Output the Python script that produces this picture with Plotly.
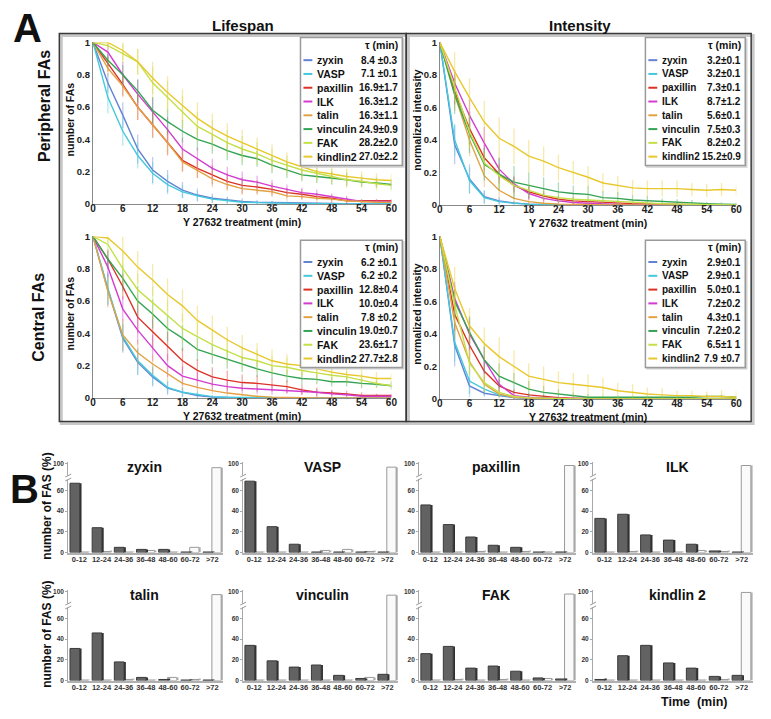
import plotly.graph_objects as go

W, H = 771, 719
FONT = "Arial, Liberation Sans, Helvetica, sans-serif"

# ---------------- data: time course (min) ----------------
time_min = [0, 3, 6, 9, 12, 15, 18, 21, 24, 27, 30, 33, 36, 39, 42, 45, 48, 51, 54, 57, 60]
x_ticks = [0, 6, 12, 18, 24, 30, 36, 42, 48, 54, 60]
y_ticks = [0, 0.2, 0.4, 0.6, 0.8, 1]
y_ticktext = ["0", "0.2", "0.4", "0.6", "0.8", "1"]

proteins = ["zyxin", "VASP", "paxillin", "ILK", "talin", "vinculin", "FAK", "kindlin2"]
colors = ["#6282d2", "#44c8dc", "#dc3226", "#d23cd0", "#e2a244", "#34a454", "#c4e048", "#e8c82c"]

# Peripheral FAs - lifespan
pl_zyxin = [1, .75, .55, .34, .21, .14, .085, .055, .035, .025, .015, .01, .008, .005, .003, .002, .002, .001, 0, 0, 0]
pl_vasp = [1, .66, .45, .30, .19, .12, .075, .05, .03, .02, .01, .008, .005, .003, .002, .001, 0, 0, 0, 0, 0]
pl_pax = [1, .87, .74, .60, .49, .38, .27, .22, .18, .14, .115, .105, .09, .07, .06, .045, .035, .02, .02, .02, .02]
pl_ilk = [1, .94, .80, .68, .57, .46, .34, .28, .22, .18, .15, .135, .11, .09, .07, .06, .045, .03, .015, .015, .015]
pl_talin = [1, .84, .73, .60, .49, .38, .26, .21, .155, .12, .095, .085, .075, .05, .045, .035, .03, .02, .015, .01, .01]
pl_vinc = [1, .89, .80, .70, .58, .51, .45, .40, .37, .33, .30, .28, .24, .21, .18, .17, .16, .15, .135, .13, .12]
pl_fak = [1, .98, .93, .88, .75, .66, .57, .48, .43, .38, .34, .31, .27, .24, .21, .19, .17, .15, .14, .125, .115]
pl_kind = [1, 1, .95, .88, .78, .69, .61, .53, .47, .42, .38, .34, .30, .26, .23, .20, .185, .17, .16, .15, .145]
e_pl_zyxin = [0, .06, .08, .09, .08, .07, .05, .04, .03, .02, .02, .015, .01, .01, .01, .01, .01, .005, .005, .005, .005]
e_pl_vasp = [0, .1, .09, .08, .07, .06, .04, .03, .02, .02, .01, .01, .01, .01, .005, .005, .005, .005, .005, .005, .005]
e_pl_pax = [0, .05, .07, .08, .08, .08, .07, .06, .06, .05, .05, .04, .04, .03, .03, .02, .02, .02, .01, .01, .01]
e_pl_ilk = [0, .05, .08, .09, .09, .08, .07, .07, .06, .05, .05, .04, .04, .03, .03, .03, .02, .02, .01, .01, .01]
e_pl_talin = [0, .05, .07, .08, .08, .07, .06, .05, .05, .04, .04, .03, .03, .03, .02, .02, .02, .01, .01, .01, .01]
e_pl_vinc = [0, .04, .06, .07, .08, .08, .07, .07, .06, .06, .06, .05, .05, .05, .04, .04, .04, .04, .03, .03, .03]
e_pl_fak = [0, .03, .06, .08, .1, .1, .1, .09, .09, .08, .08, .07, .07, .06, .06, .05, .05, .05, .04, .04, .04]
e_pl_kind = [0, .03, .06, .08, .1, .1, .1, .1, .09, .08, .08, .07, .07, .06, .06, .05, .05, .05, .04, .04, .04]
tau_pl = ["8.4 \u00b10.3", "7.1 \u00b10.1", "16.9\u00b11.7", "16.3\u00b11.2", "16.3\u00b11.1", "24.9\u00b10.9", "28.2\u00b12.0", "27.0\u00b12.2"]

# Peripheral FAs - intensity
pi_zyxin = [1, .37, .16, .05, .025, .012, .005, .003, .002, .001, 0, 0, 0, 0, 0, 0, 0, 0, 0, 0, 0]
pi_vasp = [1, .40, .15, .045, .02, .01, .005, .002, 0, 0, 0, 0, 0, 0, 0, 0, 0, 0, 0, 0, 0]
pi_pax = [1, .70, .47, .29, .19, .12, .08, .055, .035, .025, .02, .015, .01, .008, .006, .004, .003, .002, .001, 0, 0]
pi_ilk = [1, .75, .55, .38, .22, .13, .07, .04, .025, .015, .01, .005, .003, .002, .001, 0, 0, 0, 0, 0, 0]
pi_talin = [1, .68, .40, .18, .09, .04, .02, .01, .005, .003, .002, .001, 0, 0, 0, 0, 0, 0, 0, 0, 0]
pi_vinc = [1, .68, .44, .25, .19, .14, .12, .10, .08, .07, .065, .045, .04, .03, .025, .02, .015, .01, .008, .005, .003]
pi_fak = [1, .72, .45, .26, .18, .12, .09, .06, .045, .035, .03, .025, .02, .015, .01, .008, .005, .003, .002, .001, 0]
pi_kind = [1, .82, .66, .51, .41, .36, .30, .27, .23, .20, .17, .135, .12, .105, .10, .10, .10, .095, .09, .095, .09]
e_pi_zyxin = [0, .12, .09, .04, .02, .01, .01, .005, .005, .005, 0, 0, 0, 0, 0, 0, 0, 0, 0, 0, 0]
e_pi_vasp = [0, .1, .08, .04, .02, .01, .005, .005, 0, 0, 0, 0, 0, 0, 0, 0, 0, 0, 0, 0, 0]
e_pi_pax = [0, .08, .1, .08, .06, .05, .04, .03, .02, .02, .015, .01, .01, .01, .005, .005, .005, .005, .005, 0, 0]
e_pi_ilk = [0, .08, .1, .1, .07, .05, .04, .03, .02, .015, .01, .01, .005, .005, .005, 0, 0, 0, 0, 0, 0]
e_pi_talin = [0, .1, .1, .07, .05, .03, .02, .01, .01, .005, .005, 0, 0, 0, 0, 0, 0, 0, 0, 0, 0]
e_pi_vinc = [0, .12, .12, .1, .1, .1, .08, .07, .06, .05, .05, .04, .04, .03, .03, .02, .02, .02, .01, .01, .01]
e_pi_fak = [0, .08, .1, .08, .07, .05, .04, .03, .03, .02, .02, .02, .015, .01, .01, .01, .005, .005, .005, .005, 0]
e_pi_kind = [0, .12, .12, .13, .13, .11, .1, .09, .08, .07, .07, .06, .06, .05, .05, .05, .05, .04, .04, .04, .03]
tau_pi = ["3.2\u00b10.1", "3.2\u00b10.1", "7.3\u00b10.1", "8.7\u00b11.2", "5.6\u00b10.1", "7.5\u00b10.3", "8.2\u00b10.2", "15.2\u00b10.9"]

# Central FAs - lifespan
cl_zyxin = [1, .67, .37, .22, .13, .06, .035, .015, .005, .002, 0, 0, 0, 0, 0, 0, 0, 0, 0, 0, 0]
cl_vasp = [1, .68, .38, .23, .14, .065, .035, .02, .008, .004, .002, 0, 0, 0, 0, 0, 0, 0, 0, 0, 0]
cl_pax = [1, .86, .69, .50, .41, .32, .23, .17, .13, .11, .095, .09, .08, .07, .05, .035, .03, .025, .015, .015, .015]
cl_ilk = [1, .81, .55, .42, .31, .20, .135, .11, .085, .07, .06, .055, .05, .045, .04, .035, .025, .02, .01, .01, .01]
cl_talin = [1, .66, .39, .28, .21, .15, .09, .065, .045, .03, .02, .01, .005, .002, 0, 0, 0, 0, 0, 0, 0]
cl_vinc = [1, .86, .74, .60, .52, .43, .37, .30, .27, .24, .21, .18, .155, .135, .12, .115, .10, .10, .09, .085, .075]
cl_fak = [1, .95, .80, .67, .59, .51, .43, .38, .33, .29, .25, .23, .20, .19, .17, .155, .14, .13, .11, .09, .075]
cl_kind = [1, .99, .91, .81, .73, .64, .57, .48, .42, .36, .31, .27, .23, .21, .20, .18, .16, .145, .135, .12, .12]
e_cl_zyxin = [0, .1, .09, .08, .06, .04, .03, .02, .01, .005, 0, 0, 0, 0, 0, 0, 0, 0, 0, 0, 0]
e_cl_vasp = [0, .1, .09, .08, .06, .04, .03, .02, .01, .005, .005, 0, 0, 0, 0, 0, 0, 0, 0, 0, 0]
e_cl_pax = [0, .06, .08, .1, .1, .09, .08, .07, .06, .06, .05, .05, .04, .04, .03, .03, .02, .02, .02, .01, .01]
e_cl_ilk = [0, .06, .08, .09, .08, .07, .06, .05, .04, .04, .03, .03, .03, .02, .02, .02, .02, .01, .01, .01, .01]
e_cl_talin = [0, .1, .1, .08, .06, .05, .04, .03, .02, .02, .01, .01, .005, 0, 0, 0, 0, 0, 0, 0, 0]
e_cl_vinc = [0, .05, .08, .09, .09, .08, .08, .07, .06, .06, .05, .05, .04, .04, .04, .03, .03, .03, .03, .02, .02]
e_cl_fak = [0, .04, .1, .1, .1, .1, .09, .09, .08, .08, .07, .07, .06, .06, .05, .05, .04, .04, .04, .03, .03]
e_cl_kind = [0, .03, .09, .1, .1, .1, .1, .09, .09, .08, .08, .07, .07, .06, .06, .05, .05, .04, .04, .04, .03]
tau_cl = ["6.2 \u00b10.1", "6.2 \u00b10.2", "12.8\u00b10.4", "10.0\u00b10.4", "7.8 \u00b10.2", "19.0\u00b10.7", "23.6\u00b11.7", "27.7\u00b12.8"]

# Central FAs - intensity
ci_zyxin = [1, .33, .08, .035, .02, .008, .003, .001, 0, 0, 0, 0, 0, 0, 0, 0, 0, 0, 0, 0, 0]
ci_vasp = [1, .35, .11, .06, .025, .01, .005, .002, 0, 0, 0, 0, 0, 0, 0, 0, 0, 0, 0, 0, 0]
ci_pax = [1, .52, .33, .17, .08, .04, .025, .015, .008, .005, .003, .002, 0, 0, 0, 0, 0, 0, 0, 0, 0]
ci_ilk = [1, .62, .40, .24, .09, .02, .01, .005, .002, 0, 0, 0, 0, 0, 0, 0, 0, 0, 0, 0, 0]
ci_talin = [1, .47, .23, .09, .03, .01, .005, .002, 0, 0, 0, 0, 0, 0, 0, 0, 0, 0, 0, 0, 0]
ci_vinc = [1, .60, .41, .24, .14, .10, .06, .04, .03, .02, .01, .01, .01, .01, .01, .01, .01, .01, .015, .015, .01]
ci_fak = [1, .58, .22, .10, .04, .015, .008, .004, .002, 0, 0, 0, 0, 0, 0, 0, 0, 0, 0, 0, 0]
ci_kind = [1, .68, .45, .34, .26, .20, .14, .12, .10, .09, .08, .07, .05, .04, .03, .025, .02, .02, .015, .015, .01]
e_ci_zyxin = [0, .13, .05, .02, .01, .005, 0, 0, 0, 0, 0, 0, 0, 0, 0, 0, 0, 0, 0, 0, 0]
e_ci_vasp = [0, .12, .1, .04, .02, .01, 0, 0, 0, 0, 0, 0, 0, 0, 0, 0, 0, 0, 0, 0, 0]
e_ci_pax = [0, .1, .1, .07, .04, .02, .01, .01, .005, 0, 0, 0, 0, 0, 0, 0, 0, 0, 0, 0, 0]
e_ci_ilk = [0, .1, .1, .08, .05, .02, .01, .005, 0, 0, 0, 0, 0, 0, 0, 0, 0, 0, 0, 0, 0]
e_ci_talin = [0, .1, .08, .05, .02, .01, .005, 0, 0, 0, 0, 0, 0, 0, 0, 0, 0, 0, 0, 0, 0]
e_ci_vinc = [0, .1, .1, .09, .08, .06, .05, .04, .03, .02, .02, .01, .01, .01, .01, .01, .01, .01, .01, .01, .01]
e_ci_fak = [0, .1, .08, .05, .03, .01, .005, 0, 0, 0, 0, 0, 0, 0, 0, 0, 0, 0, 0, 0, 0]
e_ci_kind = [0, .13, .11, .1, .12, .1, .08, .08, .07, .07, .07, .06, .05, .05, .04, .04, .03, .03, .03, .04, .04]
tau_ci = ["2.9\u00b10.1", "2.9\u00b10.1", "5.0\u00b10.1", "7.2\u00b10.2", "4.3\u00b10.1", "7.2\u00b10.2", "6.5\u00b11 1", "7.9 \u00b10.7"]

# ---------------- data: lifetime distributions (%) ----------------
bar_cats = ["0-12", "12-24", "24-36", "36-48", "48-60", "60-72", ">72"]
bar_titles = ["zyxin", "VASP", "paxillin", "ILK", "talin", "vinculin", "FAK", "kindlin 2"]
dark_zyxin = [67, 24, 5, 3, 3, 0.5, 0.5]
dark_vasp = [69, 25, 8, 0.5, 0.5, 0.5, 0.5]
dark_pax = [46, 27, 15, 7, 5, 0.5, 0.5]
dark_ilk = [33, 37, 17, 12, 8, 1.5, 0.5]
dark_talin = [31, 46, 18, 3, 1, 0.5, 0.5]
dark_vinc = [34, 19, 13, 15, 5, 2, 6]
dark_fak = [26, 33, 12, 14, 9, 2.5, 1.5]
dark_kind = [1, 24, 34, 17, 12, 4, 5]
white_zyxin = [0.5, 1, 0.5, 2, 0.5, 5, 93]
white_vasp = [0.5, 0.5, 0.5, 2, 3, 1, 94]
white_pax = [0.5, 0.5, 1, 0.5, 1, 0.5, 97]
white_ilk = [0.5, 1, 0.5, 0.5, 2, 1, 97]
white_talin = [0.5, 0.5, 1, 0.5, 3, 1, 95]
white_vinc = [0.5, 0.5, 0.5, 0.5, 0.5, 3, 94]
white_fak = [0.5, 1, 0.5, 1, 0.5, 2, 96]
white_kind = [0.5, 0.5, 0.5, 0.5, 0.5, 1, 99]
bar_yticks = [0, 20, 40, 60, 100]

# ---------------- helpers ----------------
def px(p):
    return p / W


def py(p):
    return 1 - p / H


def rgba(hexc, a):
    h = hexc.lstrip("#")
    return "rgba(%d,%d,%d,%.2f)" % (int(h[0:2], 16), int(h[2:4], 16), int(h[4:6], 16), a)


BREAK, SQUEEZE = 70.0, 0.524


def broken(v):
    return v if v <= BREAK else BREAK + (v - BREAK) * SQUEEZE


fig = go.Figure()
layout_axes = {}
shapes = []
annotations = []
n_axes = [0]


def new_axes(xdom, ydom, xkw, ykw):
    n_axes[0] += 1
    s = "" if n_axes[0] == 1 else str(n_axes[0])
    layout_axes["xaxis" + s] = dict(domain=xdom, anchor="y" + s, **xkw)
    layout_axes["yaxis" + s] = dict(domain=ydom, anchor="x" + s, **ykw)
    return "x" + s, "y" + s


def text(x, y, t, size, xanchor="center", yanchor="middle", angle=0, color="#111", bold=True):
    annotations.append(dict(x=px(x), y=py(y), xref="paper", yref="paper", text=t, showarrow=False,
                            xanchor=xanchor, yanchor=yanchor, textangle=angle,
                            font=dict(family=FONT, size=size, color=color,
                                      weight="bold" if bold else "normal")))


def rect(x0, y0, x1, y1, line="#444", width=1.5, fill="rgba(0,0,0,0)", layer="above"):
    shapes.append(dict(type="rect", xref="paper", yref="paper", x0=px(x0), x1=px(x1),
                       y0=py(y1), y1=py(y0), line=dict(color=line, width=width),
                       fillcolor=fill, layer=layer))


# ---------------- part A frames ----------------
rect(59, 30, 410, 424, line="#c8c8c8", width=3, layer="below")
rect(410, 30, 759, 424, line="#c8c8c8", width=3, layer="below")
rect(57, 28, 408, 422, line="#3a3a3a", width=1.5)
rect(408, 28, 757, 422, line="#3a3a3a", width=1.5)

# ---------------- part A line panels ----------------
panels = [
    dict(vals=[pl_zyxin, pl_vasp, pl_pax, pl_ilk, pl_talin, pl_vinc, pl_fak, pl_kind],
         errs=[e_pl_zyxin, e_pl_vasp, e_pl_pax, e_pl_ilk, e_pl_talin, e_pl_vinc, e_pl_fak, e_pl_kind],
         taus=tau_pl, box=(91, 393, 37, 201), ytitle="number of FAs", ytx=68,
         leg=(301, 404, 32, 162), lx=(304, 313), nx=316, tx=402, hy=40, r0=55, ns=10.5),
    dict(vals=[pi_zyxin, pi_vasp, pi_pax, pi_ilk, pi_talin, pi_vinc, pi_fak, pi_kind],
         errs=[e_pi_zyxin, e_pi_vasp, e_pi_pax, e_pi_ilk, e_pi_talin, e_pi_vinc, e_pi_fak, e_pi_kind],
         taus=tau_pi, box=(442, 742, 37, 202), ytitle="normalized intensity", ytx=419,
         leg=(650, 751, 32, 162), lx=(653, 662), nx=665, tx=749, hy=40, r0=55, ns=10),
    dict(vals=[cl_zyxin, cl_vasp, cl_pax, cl_ilk, cl_talin, cl_vinc, cl_fak, cl_kind],
         errs=[e_cl_zyxin, e_cl_vasp, e_cl_pax, e_cl_ilk, e_cl_talin, e_cl_vinc, e_cl_fak, e_cl_kind],
         taus=tau_cl, box=(91, 393, 234, 398), ytitle="number of FAs", ytx=68,
         leg=(301, 404, 238, 367), lx=(304, 313), nx=316, tx=402, hy=245, r0=260, ns=10.5),
    dict(vals=[ci_zyxin, ci_vasp, ci_pax, ci_ilk, ci_talin, ci_vinc, ci_fak, ci_kind],
         errs=[e_ci_zyxin, e_ci_vasp, e_ci_pax, e_ci_ilk, e_ci_talin, e_ci_vinc, e_ci_fak, e_ci_kind],
         taus=tau_ci, box=(442, 742, 234, 399), ytitle="normalized intensity", ytx=419,
         leg=(650, 751, 238, 367), lx=(653, 662), nx=665, tx=749, hy=245, r0=260, ns=10),
]

for p in panels:
    x0, x1, y0, y1 = p["box"]
    xa, ya = new_axes(
        [px(x0), px(x1)], [py(y1), py(y0)],
        dict(range=[0, 60], tickmode="array", tickvals=x_ticks, showline=True, linecolor="#8a8a8a",
             linewidth=1, ticks="", ticklabelstandoff=-5, showgrid=False, zeroline=False,
             tickfont=dict(family=FONT, size=10, color="#222", weight="bold")),
        dict(range=[0, 1.0], tickmode="array", tickvals=y_ticks, ticktext=y_ticktext, showline=True,
             linecolor="#8a8a8a", linewidth=1, ticks="", showgrid=False, zeroline=False,
             tickfont=dict(family=FONT, size=9.5, color="#222", weight="bold")))
    for name, c, v, e in zip(proteins, colors, p["vals"], p["errs"]):
        fig.add_trace(go.Scatter(
            x=time_min, y=v, mode="lines", name=name, xaxis=xa, yaxis=ya, showlegend=False,
            line=dict(color=c, width=1.4),
            error_y=dict(type="data", array=e, visible=True, color=rgba(c, 0.4), thickness=1.3, width=0),
            cliponaxis=False))
    text((x0 + x1) / 2, y1 + 18, "Y 27632 treatment (min)", 10.5)
    text(p["ytx"], (y0 + y1) / 2 - 4, p["ytitle"], 10.5, angle=-90)
    # legend box
    lx0, lx1, ly0, ly1 = p["leg"]
    rect(lx0 + 1.5, ly0 + 1.5, lx1 + 1.5, ly1 + 1.5, line="#d0d0d0", width=1.5)
    rect(lx0, ly0, lx1, ly1, line="#9a9a9a", width=1.5, fill="white")
    text(p["tx"], p["hy"], "\u03c4 (min)", 10.5, xanchor="right")
    for i, (name, c, tau) in enumerate(zip(proteins, colors, p["taus"])):
        ry = p["r0"] + i * 14.0
        shapes.append(dict(type="line", xref="paper", yref="paper", x0=px(p["lx"][0]), x1=px(p["lx"][1]),
                           y0=py(ry), y1=py(ry), line=dict(color=c, width=2)))
        text(p["nx"], ry, name, p["ns"], xanchor="left")
        text(p["tx"], ry, tau, 10, xanchor="right")

text(243, 20, "Lifespan", 15)
text(584, 20, "Intensity", 15)
text(42, 102, "Peripheral FAs", 16, angle=-90)
text(36, 316, "Central FAs", 16, angle=-90)
text(25, 22, "A", 40)
text(22, 490, "B", 40)

# ---------------- part B bar charts ----------------
darks = [dark_zyxin, dark_vasp, dark_pax, dark_ilk, dark_talin, dark_vinc, dark_fak, dark_kind]
whites = [white_zyxin, white_vasp, white_pax, white_ilk, white_talin, white_vinc, white_fak, white_kind]
bar_xdoms = [(66, 223), (243, 400), (421, 580), (597, 759)]
bar_title_x = [143, 323, 499, 682]
row_base = [555, 685]
PXU = 1.05
Y_TOP = 88

for k in range(8):
    r, c = divmod(k, 4)
    bx0, bx1 = bar_xdoms[c]
    base = row_base[r]
    top = base - Y_TOP * PXU
    xa, ya = new_axes(
        [px(bx0), px(bx1)], [py(base), py(top)],
        dict(type="category", range=[-0.5, 6.5], showline=True, linecolor="#b0b0b0", linewidth=2,
             ticks="", ticklabelstandoff=-2, showgrid=False, zeroline=False,
             tickfont=dict(family=FONT, size=7.5, color="#333", weight="bold")),
        dict(range=[0, Y_TOP], tickmode="array", tickvals=[broken(t) for t in bar_yticks],
             ticktext=[str(t) for t in bar_yticks], showline=True, linecolor="#a8a8a8", linewidth=1,
             ticks="outside", ticklen=2, tickcolor="#a8a8a8", showgrid=False, zeroline=False,
             tickfont=dict(family=FONT, size=6.5, color="#333", weight="bold")))
    wv = [broken(v) for v in whites[k]]
    dv = [broken(v) for v in darks[k]]
    # back series (white) with grey side face
    fig.add_trace(go.Bar(x=bar_cats, y=wv, xaxis=xa, yaxis=ya, offset=0.38, width=0.1,
                         showlegend=False, marker=dict(color="#b8b8b8", line=dict(width=0))))
    fig.add_trace(go.Bar(x=bar_cats, y=wv, xaxis=xa, yaxis=ya, offset=-0.02, width=0.42,
                         showlegend=False, marker=dict(color="#fafafa", line=dict(color="#9a9a9a", width=1))))
    # front series (dark) with darker side face
    fig.add_trace(go.Bar(x=bar_cats, y=dv, xaxis=xa, yaxis=ya, offset=0.0, width=0.1,
                         showlegend=False, marker=dict(color="#303030", line=dict(width=0))))
    fig.add_trace(go.Bar(x=bar_cats, y=dv, xaxis=xa, yaxis=ya, offset=-0.42, width=0.44,
                         showlegend=False, marker=dict(color="#626262", line=dict(color="#3a3a3a", width=1))))
    # axis break marks
    by = base - 72.5 * PXU
    shapes.append(dict(type="rect", xref="paper", yref="paper", x0=px(bx0 - 3), x1=px(bx0 + 3),
                       y0=py(by + 2), y1=py(by - 2), line=dict(width=0), fillcolor="white"))
    for d in (-2, 2):
        shapes.append(dict(type="line", xref="paper", yref="paper", x0=px(bx0 - 3), x1=px(bx0 + 3),
                           y0=py(by + d + 1.5), y1=py(by + d - 1.5), line=dict(color="#999", width=1)))
    text(bar_title_x[c], base - 87, bar_titles[k], 14)

text(45, 508, "number of FAS (%)", 12, angle=-90)
text(45, 638, "number of FAS (%)", 12, angle=-90)
text(699, 707, "Time  (min)", 12.5)

fig.update_layout(
    width=W, height=H, margin=dict(l=0, r=0, t=0, b=0),
    paper_bgcolor="white", plot_bgcolor="white", barmode="overlay",
    font=dict(family=FONT), shapes=shapes, annotations=annotations, **layout_axes)

fig.write_html("out.html", config={"displayModeBar": False},
               post_script="document.body.style.margin='0';document.body.style.overflow='hidden';")
